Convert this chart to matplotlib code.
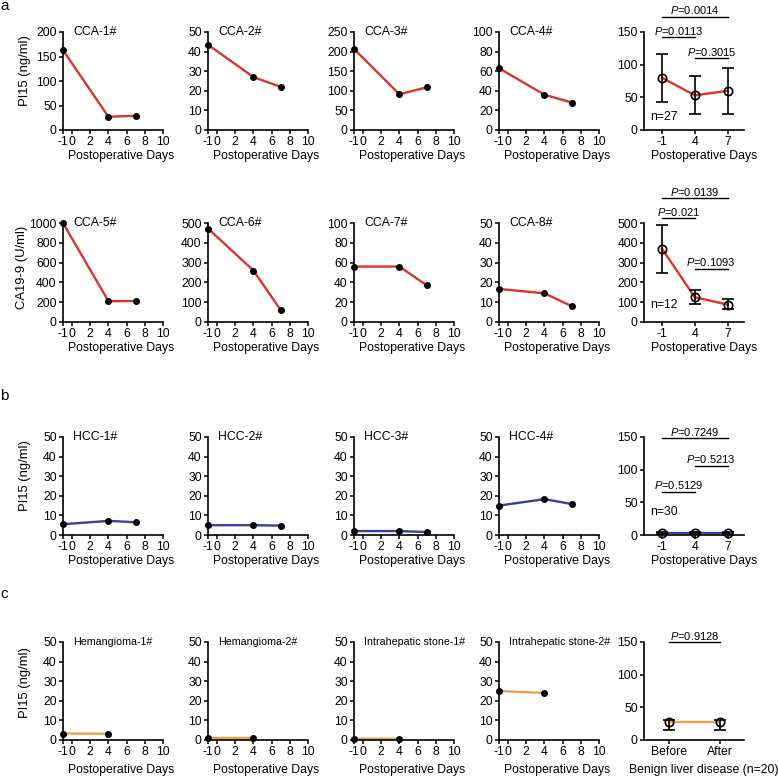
import numpy as np
import matplotlib
matplotlib.use("Agg")
import matplotlib.pyplot as plt

plt.rcParams["font.family"] = ["Liberation Sans", "DejaVu Sans"]
plt.rcParams["mathtext.fontset"] = "custom"
plt.rcParams["mathtext.rm"] = "Liberation Sans"
plt.rcParams["mathtext.it"] = "Liberation Sans:italic"
plt.rcParams["axes.unicode_minus"] = False

# ---- data ----
DAYS = [-1, 4, 7]
DAYS_BENIGN = [-1, 4]

# a: CCA, PI15 (ng/ml)
CCA1 = [163, 27, 29]
CCA2 = [43.5, 27, 22]
CCA3 = [207, 91, 109]
CCA4 = [63, 36, 28]
# a: CCA, CA19-9 (U/ml)
CCA5 = [1000, 210, 212]
CCA6 = [472, 260, 60]
CCA7 = [56, 56, 37]
CCA8 = [16.7, 14.5, 8]
# b: HCC, PI15
HCC1 = [5.5, 7.2, 6.5]
HCC2 = [5, 5, 4.8]
HCC3 = [2, 2, 1.5]
HCC4 = [15, 18.3, 15.8]
# c: benign, PI15
HEM1 = [3.3, 3.2]
HEM2 = [0.8, 0.8]
STONE1 = [0.7, 0.6]
STONE2 = [25, 24]

# summaries: mean with error range
SUM_LABELS = ["-1", "4", "7"]
BENIGN_LABELS = ["Before", "After"]
CCA_PI15_MEAN = [80, 53, 60]
CCA_PI15_LO = [43, 24, 25]
CCA_PI15_HI = [117, 82, 95]
CCA_CA199_MEAN = [370, 125, 88]
CCA_CA199_LO = [250, 92, 65]
CCA_CA199_HI = [490, 160, 115]
HCC_MEAN = [3.5, 3.5, 3.5]
HCC_LO = [2, 2, 2]
HCC_HI = [5, 5, 5]
BENIGN_MEAN = [27, 27]
BENIGN_LO = [15, 15]
BENIGN_HI = [30, 30]

# (label, group i, group j)
CCA_PI15_P = [("0.0014", 0, 2), ("0.0113", 0, 1), ("0.3015", 1, 2)]
CCA_CA199_P = [("0.0139", 0, 2), ("0.021", 0, 1), ("0.1093", 1, 2)]
HCC_P = [("0.7249", 0, 2), ("0.5213", 1, 2), ("0.5129", 0, 1)]
BENIGN_P = [("0.9128", 0, 1)]

RED = "#D8362B"
BLUE = "#3B3D9B"
ORANGE = "#F0A048"

# ---- layout in pixels ----
W = H = 778
COL_X = [63, 208, 354, 499, 644]
ROWS = [(32, 130), (223, 322), (437, 535), (642, 740)]
FS = 8.8


def add_ax(fig, col, row):
    top, bot = ROWS[row]
    ax = fig.add_axes([COL_X[col] / W, 1 - bot / H, 100 / W, (bot - top) / H])
    for s in ("top", "right"):
        ax.spines[s].set_visible(False)
    for s in ("left", "bottom"):
        ax.spines[s].set_linewidth(1.2)
    ax.tick_params(direction="out", length=3, width=1.1, labelsize=FS, pad=1.5)
    return ax


def patient_panel(ax, x, y, name, color, ymax, ystep, tfs=FS, low=False):
    ax.plot(x, y, color=color, lw=1.7, zorder=2, clip_on=False)
    ax.plot(x, y, "o", color="black", ms=4, zorder=3, clip_on=False)
    ax.set_xlim(-1, 10)
    ax.set_xticks([-1, 0, 2, 4, 6, 8, 10])
    ax.set_ylim(0, ymax)
    ax.set_yticks(np.arange(0, ymax + 1, ystep))
    ax.text(0.1, 1.0, name, transform=ax.transAxes, ha="left", va="center", fontsize=tfs)
    ax.set_xlabel("Postoperative Days", fontsize=FS)
    ax.xaxis.set_label_coords(0.58, -0.25 if low else -0.2)


def summary_panel(ax, labels, mean, lo, hi, color, ymax, ystep, pvals, plevels,
                  ntext=None, npos=0.15, xlabel="Postoperative Days", low=False):
    x = np.arange(len(labels))
    mean = np.array(mean)
    err = [mean - np.array(lo), np.array(hi) - mean]
    ax.plot(x, mean, color=color, lw=1.7, zorder=2)
    ax.errorbar(x, mean, yerr=err, fmt="none", ecolor="black", elinewidth=1.2,
                capsize=4, capthick=1.2, zorder=3, clip_on=False)
    ax.plot(x, mean, "o", mfc="none", mec="black", mew=1.2, ms=6, zorder=4, clip_on=False)
    if len(labels) == 3:
        ax.set_xlim(-0.55, 2.5)
    else:
        ax.set_xlim(-0.5, 1.48)
    ax.set_xticks(x)
    ax.set_xticklabels(labels)
    ax.set_ylim(0, ymax)
    ax.set_yticks(np.arange(0, ymax + 1, ystep))
    for (p, i, j), lev in zip(pvals, plevels):
        ax.plot([i, j], [lev, lev], color="black", lw=1, clip_on=False)
        ax.text((i + j) / 2, lev + ymax * 0.005, r"$\it{P}$=" + p, ha="center",
                va="bottom", fontsize=8.0)
    if ntext:
        ax.text(0.06, npos, ntext, transform=ax.transAxes, ha="left", va="center",
                fontsize=FS)
    ax.set_xlabel(xlabel, fontsize=FS)
    ax.xaxis.set_label_coords(0.6, -0.25 if low else -0.2)


fig = plt.figure(figsize=(W / 100, H / 100), dpi=100)

# row a1
for col, (y, name, ymax, step) in enumerate([(CCA1, "CCA-1#", 200, 50), (CCA2, "CCA-2#", 50, 10),
                                             (CCA3, "CCA-3#", 250, 50), (CCA4, "CCA-4#", 100, 20)]):
    patient_panel(add_ax(fig, col, 0), DAYS, y, name, RED, ymax, step)
summary_panel(add_ax(fig, 4, 0), SUM_LABELS, CCA_PI15_MEAN, CCA_PI15_LO, CCA_PI15_HI,
              RED, 150, 50, CCA_PI15_P, [173, 142, 110], "n=27", 0.13)

# row a2
for col, (y, name, ymax, step) in enumerate([(CCA5, "CCA-5#", 1000, 200), (CCA6, "CCA-6#", 500, 100),
                                             (CCA7, "CCA-7#", 100, 20), (CCA8, "CCA-8#", 50, 10)]):
    patient_panel(add_ax(fig, col, 1), DAYS, y, name, RED, ymax, step)
summary_panel(add_ax(fig, 4, 1), SUM_LABELS, CCA_CA199_MEAN, CCA_CA199_LO, CCA_CA199_HI,
              RED, 500, 100, CCA_CA199_P, [625, 525, 270], "n=12", 0.17)

# row b
for col, (y, name) in enumerate([(HCC1, "HCC-1#"), (HCC2, "HCC-2#"), (HCC3, "HCC-3#"), (HCC4, "HCC-4#")]):
    patient_panel(add_ax(fig, col, 2), DAYS, y, name, BLUE, 50, 10)
summary_panel(add_ax(fig, 4, 2), SUM_LABELS, HCC_MEAN, HCC_LO, HCC_HI,
              BLUE, 150, 50, HCC_P, [148, 106, 66], "n=30", 0.23)

# row c
for col, (y, name) in enumerate([(HEM1, "Hemangioma-1#"), (HEM2, "Hemangioma-2#"),
                                 (STONE1, "Intrahepatic stone-1#"), (STONE2, "Intrahepatic stone-2#")]):
    patient_panel(add_ax(fig, col, 3), DAYS_BENIGN, y, name, ORANGE, 50, 10, tfs=7.7, low=True)
summary_panel(add_ax(fig, 4, 3), BENIGN_LABELS, BENIGN_MEAN, BENIGN_LO, BENIGN_HI,
              ORANGE, 150, 50, BENIGN_P, [150], xlabel="Benign liver disease (n=20)", low=True)

# y labels and panel letters
for yc, lab, xc in [(71, "PI15 (ng/ml)", 25), (267, "CA19-9 (U/ml)", 22),
                    (476, "PI15 (ng/ml)", 25), (683, "PI15 (ng/ml)", 25)]:
    fig.text(xc / W, 1 - yc / H, lab, rotation=90, ha="center", va="center", fontsize=9.4)
for yb, let in [(10, "a"), (400, "b"), (598, "c")]:
    fig.text(0.5 / W, 1 - yb / H, let, ha="left", va="baseline", fontsize=11)

fig.savefig("out.png", dpi=100)
